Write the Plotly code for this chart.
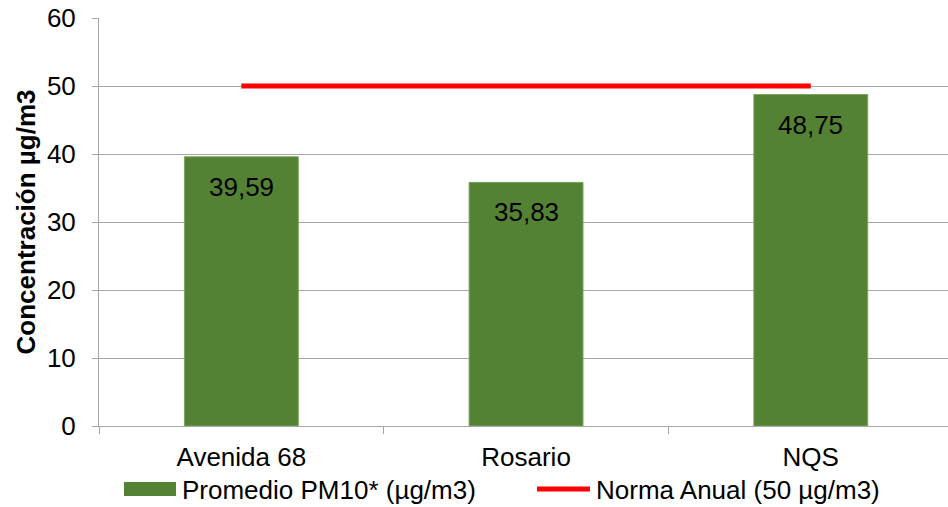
import plotly.graph_objects as go

categories = ["Avenida 68", "Rosario", "NQS"]
pm10_values = [39.59, 35.83, 48.75]
norma_values = [50, 50, 50]
bar_name = "Promedio PM10* (µg/m3)"
line_name = "Norma Anual (50 µg/m3)"
y_ticks = [0, 10, 20, 30, 40, 50, 60]

FONT = "Liberation Sans, Arial, sans-serif"
FS = 26
GREEN = "#548235"
RED = "#FF0000"
GRID = "#A6A6A6"

W, H = 948, 507
ML, MR, MT, MB = 99, 0, 18, 81
PW = W - ML - MR
PH = H - MT - MB
PLOT_LEFT = ML
PLOT_BOTTOM = MT + PH


def px_x(X):
    return (X - PLOT_LEFT) / PW


def px_y(Y):
    return (PLOT_BOTTOM - Y) / PH


fig = go.Figure()
fig.add_trace(go.Bar(
    x=categories, y=pm10_values, name=bar_name,
    marker=dict(color=GREEN, line=dict(color="#7FA35F", width=1)),
    width=0.4, showlegend=False,
))
fig.add_trace(go.Scatter(
    x=categories, y=norma_values, name=line_name, mode="lines",
    line=dict(color=RED, width=5), showlegend=False,
))

for c, v in zip(categories, pm10_values):
    fig.add_annotation(
        x=c, y=v, text=f"{v:.2f}".replace(".", ","), showarrow=False,
        yanchor="middle", yshift=-30, font=dict(size=FS, color="black", family=FONT),
    )

# legend (drawn manually to match swatch sizes)
fig.add_shape(type="rect", xref="paper", yref="paper",
              x0=px_x(124), x1=px_x(176), y0=px_y(496), y1=px_y(482),
              fillcolor=GREEN, line=dict(width=0))
fig.add_annotation(xref="paper", yref="paper", x=px_x(180), y=px_y(489.5),
                   xanchor="left", yanchor="middle", showarrow=False,
                   text=bar_name, font=dict(size=FS, color="black", family=FONT))
fig.add_shape(type="line", xref="paper", yref="paper",
              x0=px_x(537), x1=px_x(590), y0=px_y(489), y1=px_y(489),
              line=dict(color=RED, width=5))
fig.add_annotation(xref="paper", yref="paper", x=px_x(594), y=px_y(489.5),
                   xanchor="left", yanchor="middle", showarrow=False,
                   text=line_name, font=dict(size=FS, color="black", family=FONT))

fig.update_layout(
    width=W, height=H,
    margin=dict(l=ML, r=MR, t=MT, b=MB),
    paper_bgcolor="white", plot_bgcolor="white",
    font=dict(family=FONT, size=FS, color="black"),
    showlegend=False,
    bargap=0.6,
)
fig.update_xaxes(
    type="category", range=[-0.5, 2.482], automargin=False,
    showline=True, linecolor=GRID, linewidth=1,
    ticks="outside", tickson="boundaries", ticklen=7, tickcolor=GRID,
    showgrid=False, tickfont=dict(size=FS), ticklabelstandoff=8,
)
fig.update_yaxes(
    range=[0, 60], tickvals=y_ticks, automargin=False,
    showline=True, linecolor=GRID, linewidth=1,
    ticks="outside", ticklen=6, tickcolor=GRID,
    showgrid=True, gridcolor=GRID, gridwidth=1, zeroline=False,
    tickfont=dict(size=FS), ticklabelstandoff=11,
    title=dict(text="<b>Concentración µg/m3</b>", font=dict(size=FS), standoff=3),
)

fig.write_html(
    "out.html",
    config={"displayModeBar": False},
    post_script="document.body.style.margin='0';document.body.style.overflow='hidden';",
)
